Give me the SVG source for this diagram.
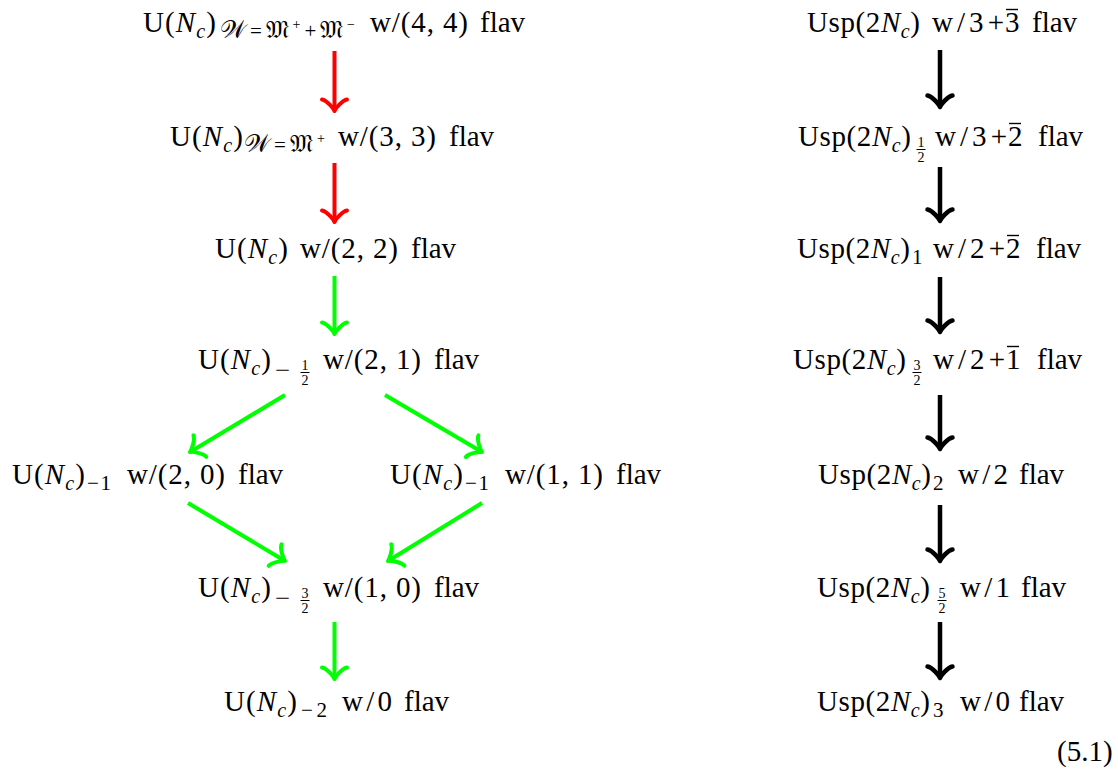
<svg xmlns="http://www.w3.org/2000/svg" width="1118" height="773" viewBox="0 0 1118 773">
<style>
.t{font-family:"Liberation Serif",serif;font-size:29px;fill:#000}
.i{font-style:italic}
.s{font-size:20px}
.sb{font-family:"Liberation Serif",serif;font-size:21px;fill:#000}
.sup{font-size:14px}
.m{font-family:"DejaVu Serif","DejaVu Sans","Noto Sans",serif;font-size:25px}
.f{font-family:"Liberation Serif",serif;font-size:14px;fill:#000;text-anchor:middle}
.bar{stroke:#000;stroke-width:1}
.ob{stroke:#000;stroke-width:1.4}
.a{fill:none;stroke-width:4}
.r{stroke:#ff0000}
.g{stroke:#00ff00}
.k{stroke:#000;stroke-width:4.5}
</style>
<defs>
<marker id="mr" markerUnits="userSpaceOnUse" orient="auto" refX="0" refY="0" markerWidth="30" markerHeight="30" viewBox="-15 -15 30 30" overflow="visible">
<path d="M-11.5,-12.5 C-10.8,-7.8 -2.3,-0.8 0,0 C-2.3,0.8 -10.8,7.8 -11.5,12.5" fill="none" stroke="#ff0000" stroke-width="4" stroke-linecap="round" stroke-linejoin="round"/>
</marker>
<marker id="mg" markerUnits="userSpaceOnUse" orient="auto" refX="0" refY="0" markerWidth="30" markerHeight="30" viewBox="-15 -15 30 30" overflow="visible">
<path d="M-11.5,-12.5 C-10.8,-7.8 -2.3,-0.8 0,0 C-2.3,0.8 -10.8,7.8 -11.5,12.5" fill="none" stroke="#00ff00" stroke-width="4" stroke-linecap="round" stroke-linejoin="round"/>
</marker>
<marker id="mk" markerUnits="userSpaceOnUse" orient="auto" refX="0" refY="0" markerWidth="30" markerHeight="30" viewBox="-15 -15 30 30" overflow="visible">
<path d="M-11.5,-12.5 C-10.8,-7.8 -2.3,-0.8 0,0 C-2.3,0.8 -10.8,7.8 -11.5,12.5" fill="none" stroke="#000" stroke-width="4.5" stroke-linecap="round" stroke-linejoin="round"/>
</marker>
</defs>

<g id="connectors">
<line class="a r" x1="334.5" y1="51" x2="334.5" y2="111" marker-end="url(#mr)"/>
<line class="a r" x1="334.5" y1="163" x2="334.5" y2="222" marker-end="url(#mr)"/>
<line class="a g" x1="334.5" y1="276" x2="334.5" y2="334" marker-end="url(#mg)"/>
<line class="a g" x1="285" y1="395" x2="190" y2="452" marker-end="url(#mg)"/>
<line class="a g" x1="385" y1="395" x2="482" y2="452" marker-end="url(#mg)"/>
<line class="a g" x1="188" y1="503" x2="285" y2="561" marker-end="url(#mg)"/>
<line class="a g" x1="482" y1="503" x2="388" y2="561" marker-end="url(#mg)"/>
<line class="a g" x1="334.5" y1="622" x2="334.5" y2="679" marker-end="url(#mg)"/>
<line class="a k" x1="940" y1="50" x2="940" y2="107" marker-end="url(#mk)"/>
<line class="a k" x1="940" y1="167" x2="940" y2="221" marker-end="url(#mk)"/>
<line class="a k" x1="940" y1="277" x2="940" y2="332" marker-end="url(#mk)"/>
<line class="a k" x1="940" y1="395" x2="940" y2="449" marker-end="url(#mk)"/>
<line class="a k" x1="940" y1="505" x2="940" y2="561" marker-end="url(#mk)"/>
<line class="a k" x1="940" y1="622" x2="940" y2="678" marker-end="url(#mk)"/>
</g>

<g id="L1">
<text class="t" x="143" y="32" textLength="73">U(<tspan class="i">N</tspan><tspan class="s i" dy="6">c</tspan><tspan dy="-6">)</tspan></text>
<text class="sb" x="220" y="38" textLength="135"><tspan class="m">𝒲</tspan>=<tspan class="m">𝔐</tspan><tspan class="sup" dy="-9">+</tspan><tspan dy="9">+</tspan><tspan class="m">𝔐</tspan><tspan class="sup" dy="-9">−</tspan></text>
<text class="t" x="370" y="32" textLength="98">w/(4, 4)</text>
<text class="t" x="480" y="32">flav</text>
</g>
<g id="L2">
<text class="t" x="170" y="146" textLength="73">U(<tspan class="i">N</tspan><tspan class="s i" dy="6">c</tspan><tspan dy="-6">)</tspan></text>
<text class="sb" x="244" y="152" textLength="81"><tspan class="m">𝒲</tspan>=<tspan class="m">𝔐</tspan><tspan class="sup" dy="-9">+</tspan></text>
<text class="t" x="338" y="146" textLength="98">w/(3, 3)</text>
<text class="t" x="449" y="146">flav</text>
</g>
<g id="L3">
<text class="t" x="215" y="258" textLength="73">U(<tspan class="i">N</tspan><tspan class="s i" dy="6">c</tspan><tspan dy="-6">)</tspan></text>
<text class="t" x="300" y="258" textLength="98">w/(2, 2)</text>
<text class="t" x="411" y="258">flav</text>
</g>
<g id="L4">
<text class="t" x="198" y="369" textLength="73">U(<tspan class="i">N</tspan><tspan class="s i" dy="6">c</tspan><tspan dy="-6">)</tspan></text>
<text class="sb" x="275" y="377" textLength="15" lengthAdjust="spacingAndGlyphs">−</text>
<text class="f" x="305" y="370">1</text>
<line class="bar" x1="300.5" y1="372.5" x2="309.5" y2="372.5"/>
<text class="f" x="305" y="385">2</text>
<text class="t" x="323" y="369" textLength="98">w/(2, 1)</text>
<text class="t" x="434" y="369">flav</text>
</g>
<g id="L5a">
<text class="t" x="12" y="484" textLength="73">U(<tspan class="i">N</tspan><tspan class="s i" dy="6">c</tspan><tspan dy="-6">)</tspan></text>
<text class="sb" x="87" y="490" textLength="24">−1</text>
<text class="t" x="127" y="484" textLength="98">w/(2, 0)</text>
<text class="t" x="238" y="484">flav</text>
</g>
<g id="L5b">
<text class="t" x="390" y="484" textLength="73">U(<tspan class="i">N</tspan><tspan class="s i" dy="6">c</tspan><tspan dy="-6">)</tspan></text>
<text class="sb" x="465" y="490" textLength="24">−1</text>
<text class="t" x="505" y="484" textLength="98">w/(1, 1)</text>
<text class="t" x="616" y="484">flav</text>
</g>
<g id="L6">
<text class="t" x="198" y="597" textLength="73">U(<tspan class="i">N</tspan><tspan class="s i" dy="6">c</tspan><tspan dy="-6">)</tspan></text>
<text class="sb" x="275" y="605" textLength="15" lengthAdjust="spacingAndGlyphs">−</text>
<text class="f" x="305" y="598">3</text>
<line class="bar" x1="300.5" y1="600.5" x2="309.5" y2="600.5"/>
<text class="f" x="305" y="613">2</text>
<text class="t" x="323" y="597" textLength="98">w/(1, 0)</text>
<text class="t" x="434" y="597">flav</text>
</g>
<g id="L7">
<text class="t" x="224" y="711" textLength="73">U(<tspan class="i">N</tspan><tspan class="s i" dy="6">c</tspan><tspan dy="-6">)</tspan></text>
<text class="sb" x="301" y="717" textLength="26">−2</text>
<text class="t" x="342" y="711" textLength="50">w/0</text>
<text class="t" x="404" y="711">flav</text>
</g>

<g id="R1">
<text class="t" x="807" y="32" textLength="113">Usp(2<tspan class="i">N</tspan><tspan class="s i" dy="6">c</tspan><tspan dy="-6">)</tspan></text>
<text class="t" x="932" y="32" textLength="72">w/3+</text>
<text class="t" x="1005" y="32">3</text>
<line class="ob" x1="1006" y1="9.5" x2="1018" y2="9.5"/>
<text class="t" x="1032" y="32">flav</text>
</g>
<g id="R2">
<text class="t" x="798" y="146" textLength="113">Usp(2<tspan class="i">N</tspan><tspan class="s i" dy="6">c</tspan><tspan dy="-6">)</tspan></text>
<text class="f" x="921" y="147">1</text>
<line class="bar" x1="916.5" y1="149.5" x2="925.5" y2="149.5"/>
<text class="f" x="921" y="162">2</text>
<text class="t" x="935" y="146" textLength="72">w/3+</text>
<text class="t" x="1008" y="146">2</text>
<line class="ob" x1="1009" y1="123.5" x2="1021" y2="123.5"/>
<text class="t" x="1038" y="146">flav</text>
</g>
<g id="R3">
<text class="t" x="797" y="258" textLength="113">Usp(2<tspan class="i">N</tspan><tspan class="s i" dy="6">c</tspan><tspan dy="-6">)</tspan></text>
<text class="sb" x="912" y="264">1</text>
<text class="t" x="933" y="258" textLength="72">w/2+</text>
<text class="t" x="1006" y="258">2</text>
<line class="ob" x1="1007" y1="235.5" x2="1019" y2="235.5"/>
<text class="t" x="1036" y="258">flav</text>
</g>
<g id="R4">
<text class="t" x="793" y="369" textLength="113">Usp(2<tspan class="i">N</tspan><tspan class="s i" dy="6">c</tspan><tspan dy="-6">)</tspan></text>
<text class="f" x="917" y="370">3</text>
<line class="bar" x1="912.5" y1="372.5" x2="921.5" y2="372.5"/>
<text class="f" x="917" y="385">2</text>
<text class="t" x="933" y="369" textLength="72">w/2+</text>
<text class="t" x="1006" y="369">1</text>
<line class="ob" x1="1007" y1="346.5" x2="1019" y2="346.5"/>
<text class="t" x="1037" y="369">flav</text>
</g>
<g id="R5">
<text class="t" x="818" y="484" textLength="113">Usp(2<tspan class="i">N</tspan><tspan class="s i" dy="6">c</tspan><tspan dy="-6">)</tspan></text>
<text class="sb" x="933" y="490">2</text>
<text class="t" x="958" y="484" textLength="50">w/2</text>
<text class="t" x="1019" y="484">flav</text>
</g>
<g id="R6">
<text class="t" x="817" y="597" textLength="113">Usp(2<tspan class="i">N</tspan><tspan class="s i" dy="6">c</tspan><tspan dy="-6">)</tspan></text>
<text class="f" x="942" y="598">5</text>
<line class="bar" x1="937.5" y1="600.5" x2="946.5" y2="600.5"/>
<text class="f" x="942" y="613">2</text>
<text class="t" x="960" y="597" textLength="50">w/1</text>
<text class="t" x="1021" y="597">flav</text>
</g>
<g id="R7">
<text class="t" x="817" y="711" textLength="113">Usp(2<tspan class="i">N</tspan><tspan class="s i" dy="6">c</tspan><tspan dy="-6">)</tspan></text>
<text class="sb" x="933" y="717">3</text>
<text class="t" x="960" y="711" textLength="50">w/0</text>
<text class="t" x="1019" y="711">flav</text>
</g>
<g id="eq">
<text class="t" x="1057" y="761">(5.1)</text>
</g>
</svg>
